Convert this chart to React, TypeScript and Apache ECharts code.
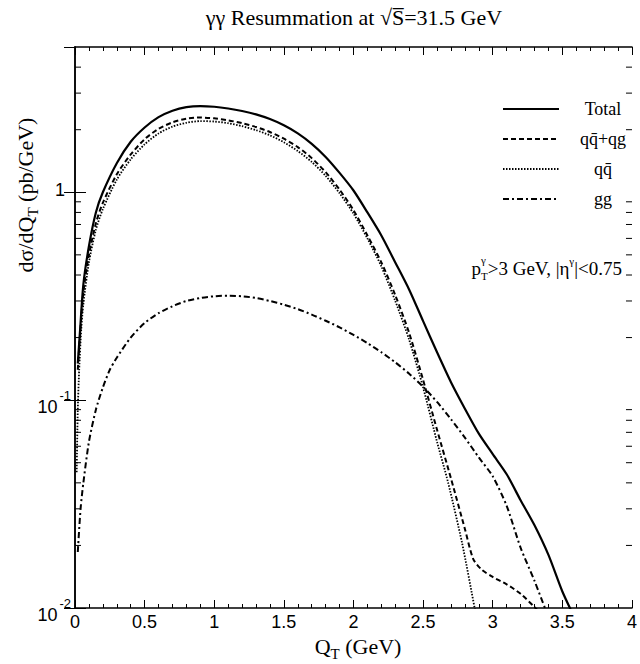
import React, { useEffect, useRef } from "react";
import * as echarts from "echarts";

// ---- data ----
const totalQ = [0.02, 0.035, 0.06, 0.1, 0.15, 0.2, 0.3, 0.4, 0.5, 0.6, 0.7, 0.8, 0.9, 1.0, 1.1, 1.2, 1.3, 1.4, 1.5, 1.6, 1.7, 1.8, 1.9, 2.0, 2.1, 2.2, 2.3, 2.4, 2.5, 2.6, 2.7, 2.8, 2.9, 3.0, 3.1, 3.2, 3.3, 3.4, 3.5, 3.58];
const totalV = [0.15, 0.21, 0.36, 0.55, 0.8, 1.0, 1.38, 1.75, 2.05, 2.3, 2.47, 2.57, 2.6, 2.58, 2.53, 2.46, 2.37, 2.25, 2.1, 1.92, 1.71, 1.48, 1.24, 1.02, 0.8, 0.62, 0.46, 0.34, 0.24, 0.17, 0.122, 0.091, 0.069, 0.055, 0.044, 0.033, 0.025, 0.018, 0.012, 0.0092];

const qqqgQ = [0.02, 0.035, 0.06, 0.1, 0.15, 0.2, 0.3, 0.4, 0.5, 0.6, 0.7, 0.8, 0.9, 1.0, 1.1, 1.2, 1.3, 1.4, 1.5, 1.6, 1.7, 1.8, 1.9, 2.0, 2.1, 2.2, 2.3, 2.4, 2.5, 2.6, 2.7, 2.8, 2.86, 2.92, 3.0, 3.1, 3.2, 3.3, 3.35];
const qqqgV = [0.14, 0.2, 0.33, 0.5, 0.71, 0.89, 1.22, 1.52, 1.8, 2.02, 2.17, 2.26, 2.29, 2.27, 2.22, 2.15, 2.06, 1.95, 1.81, 1.65, 1.46, 1.25, 1.03, 0.82, 0.62, 0.46, 0.32, 0.21, 0.125, 0.072, 0.042, 0.024, 0.0172, 0.0153, 0.0141, 0.013, 0.0117, 0.0101, 0.0093];

const qqQ = [0.012, 0.02, 0.03, 0.045, 0.06, 0.1, 0.15, 0.2, 0.3, 0.4, 0.5, 0.6, 0.7, 0.8, 0.9, 1.0, 1.1, 1.2, 1.3, 1.4, 1.5, 1.6, 1.7, 1.8, 1.9, 2.0, 2.1, 2.2, 2.3, 2.4, 2.5, 2.6, 2.68, 2.78, 2.87, 2.89];
const qqV = [0.045, 0.09, 0.14, 0.22, 0.29, 0.46, 0.66, 0.83, 1.15, 1.44, 1.7, 1.92, 2.07, 2.16, 2.2, 2.19, 2.15, 2.08, 1.99, 1.88, 1.74, 1.58, 1.4, 1.2, 0.99, 0.79, 0.6, 0.44, 0.3, 0.195, 0.115, 0.063, 0.04, 0.0205, 0.01, 0.0085];

const ggQ = [0.02, 0.04, 0.06, 0.1, 0.15, 0.2, 0.25, 0.3, 0.4, 0.5, 0.6, 0.7, 0.8, 0.9, 1.0, 1.1, 1.2, 1.3, 1.4, 1.5, 1.6, 1.7, 1.8, 1.9, 2.0, 2.1, 2.2, 2.3, 2.4, 2.5, 2.6, 2.7, 2.8, 2.9, 3.0, 3.1, 3.2, 3.3, 3.38, 3.42];
const ggV = [0.0186, 0.03, 0.04, 0.063, 0.09, 0.115, 0.14, 0.16, 0.2, 0.235, 0.262, 0.283, 0.3, 0.31, 0.316, 0.318, 0.316, 0.31, 0.3, 0.288, 0.274, 0.258, 0.241, 0.224, 0.206, 0.188, 0.17, 0.152, 0.134, 0.116, 0.098, 0.081, 0.066, 0.053, 0.043, 0.031, 0.0195, 0.0135, 0.0098, 0.0085];

const seriesNames = ["Total", "qq\u0304+qg", "qq\u0304", "gg"];
const yMinorTicks = [0.02, 0.03, 0.04, 0.05, 0.06, 0.07, 0.08, 0.09, 0.2, 0.3, 0.4, 0.5, 0.6, 0.7, 0.8, 0.9, 2, 3, 4];

const SERIF = '"Liberation Serif", "DejaVu Serif", serif';
const SANS = '"Liberation Sans", Arial, sans-serif';

const zip = (xs: number[], ys: number[]) => xs.map((x, i) => [x, ys[i]]);

function textWidth(text: string, size: number): number {
  const ctx = document.createElement("canvas").getContext("2d");
  if (!ctx) return text.length * size * 0.5;
  ctx.font = size + "px " + SERIF;
  return ctx.measureText(text).width;
}

export default function App() {
  const ref = useRef<HTMLDivElement>(null);
  useEffect(() => {
    const chart = echarts.init(ref.current!, null, { renderer: "svg" });
    const axisLine = { show: true, lineStyle: { color: "#000", width: 1.5 } };
    const xAxisBase = {
      type: "value",
      min: 0,
      max: 4,
      interval: 0.5,
      axisLine,
      axisTick: { show: true, inside: true, length: 8, lineStyle: { color: "#000", width: 1 } },
      minorTick: { show: true, splitNumber: 5, length: 4, lineStyle: { color: "#000", width: 1 } },
      splitLine: { show: false },
      minorSplitLine: { show: false },
    };
    const yAxisBase = {
      type: "log",
      logBase: 10,
      min: 0.01,
      max: 5,
      interval: 1,
      axisLine,
      axisTick: { show: true, inside: true, length: 11, lineStyle: { color: "#000", width: 1 } },
      splitLine: { show: false },
    };
    const lineSeries = (name: string, data: number[][], type: any, width: number) => ({
      type: "line",
      name,
      data,
      symbol: "none",
      smooth: 0.25,
      xAxisIndex: 0,
      yAxisIndex: 0,
      lineStyle: { color: "#000", width, type },
      itemStyle: { color: "#000" },
      z: 3,
    });

    // annotation layout: right edge at 622
    const annRight = 622;
    const annWidth =
      textWidth("p", 19) + textWidth("T", 11) + textWidth(">3 GeV, |\u03b7", 19) + textWidth("\u03b3", 11) + textWidth("|<0.75", 19);
    const annLeft = annRight - annWidth;
    const gammaX = annLeft + textWidth("p", 19);

    chart.setOption({
      animation: false,
      backgroundColor: "#fff",
      grid: { left: 75, right: 2, top: 47, bottom: 56 },
      xAxis: [
        {
          ...xAxisBase,
          position: "bottom",
          axisLabel: { show: true, color: "#000", fontSize: 18, fontFamily: SANS, margin: 5 },
        },
        { ...xAxisBase, position: "top", axisLabel: { show: false } },
      ],
      yAxis: [
        {
          ...yAxisBase,
          position: "left",
          axisLabel: {
            show: true,
            showMaxLabel: false,
            margin: 4,
            formatter: (v: number) => {
              const e = Math.round(Math.log10(v));
              if (Math.abs(Math.log10(v) - e) > 1e-6) return "";
              if (e === 0) return "{o|1}";
              return "{n|10}{s|" + e + "}";
            },
            rich: {
              o: { fontSize: 18, fontFamily: SANS, color: "#000", padding: [0, 6, 4, 0] },
              n: { fontSize: 18, fontFamily: SANS, color: "#000", padding: [14, 2, 0, 0] },
              s: { fontSize: 13, fontFamily: SANS, color: "#000", padding: [0, 0, 10, 0] },
            },
          },
        },
        { ...yAxisBase, position: "right", axisLabel: { show: false } },
      ],
      legend: {
        orient: "vertical",
        left: 497,
        top: 95,
        itemWidth: 56,
        itemHeight: 14,
        itemGap: 12,
        data: seriesNames,
        selectedMode: false,
        itemStyle: { opacity: 0 },
        formatter: (name: string) => "{c|" + name + "}",
        textStyle: {
          color: "#000",
          rich: { c: { width: 78, align: "center", fontSize: 18, fontFamily: SERIF, color: "#000" } },
        },
      },
      series: [
        lineSeries(seriesNames[0], zip(totalQ, totalV), "solid", 2.2),
        lineSeries(seriesNames[1], zip(qqqgQ, qqqgV), [5, 3], 2),
        lineSeries(seriesNames[2], zip(qqQ, qqV), [1.5, 1.5], 1.8),
        lineSeries(seriesNames[3], zip(ggQ, ggV), [6, 3, 2, 3], 2),
        {
          type: "custom",
          name: "minorTicks",
          xAxisIndex: 0,
          yAxisIndex: 0,
          silent: true,
          clip: false,
          z: 5,
          encode: { x: 0, y: 1 },
          data: yMinorTicks.map((v) => [0, v]),
          renderItem: (_params: any, api: any) => {
            const v = api.value(1);
            const pl = api.coord([0, v]);
            const pr = api.coord([4, v]);
            const st = { stroke: "#000", lineWidth: 1 };
            return {
              type: "group",
              children: [
                { type: "line", shape: { x1: pl[0], y1: pl[1], x2: pl[0] + 6, y2: pl[1] }, style: st },
                { type: "line", shape: { x1: pr[0] - 6, y1: pr[1], x2: pr[0], y2: pr[1] }, style: st },
              ],
            };
          },
        },
      ],
      graphic: [
        {
          type: "text",
          x: 354,
          y: 17,
          style: {
            text: "\u03b3\u03b3 Resummation at \u221aS\u0305=31.5 GeV",
            fontSize: 22,
            fontFamily: SERIF,
            fill: "#000",
            align: "center",
            verticalAlign: "middle",
          },
        },
        {
          type: "text",
          x: 358,
          y: 646,
          style: {
            text: "{a|Q}{b|T}{a| (GeV)}",
            align: "center",
            verticalAlign: "middle",
            rich: {
              a: { fontSize: 22, fontFamily: SERIF, fill: "#000", lineHeight: 30 },
              b: { fontSize: 15, fontFamily: SERIF, fill: "#000", lineHeight: 15, verticalAlign: "bottom" },
            },
          },
        },
        {
          type: "text",
          x: 25,
          y: 195,
          rotation: Math.PI / 2,
          style: {
            text: "{a|d\u03c3/dQ}{b|T}{a| (pb/GeV)}",
            align: "center",
            verticalAlign: "middle",
            rich: {
              a: { fontSize: 22, fontFamily: SERIF, fill: "#000", lineHeight: 30 },
              b: { fontSize: 15, fontFamily: SERIF, fill: "#000", lineHeight: 15, verticalAlign: "bottom" },
            },
          },
        },
        {
          type: "text",
          x: annLeft,
          y: 268,
          style: {
            text: "{m|p}{s|T}{m|>3 GeV, |\u03b7}{u|\u03b3}{m||<0.75}",
            align: "left",
            verticalAlign: "middle",
            rich: {
              m: { fontSize: 19, fontFamily: SERIF, fill: "#000", lineHeight: 26 },
              s: { fontSize: 11, fontFamily: SERIF, fill: "#000", lineHeight: 11, verticalAlign: "bottom" },
              u: { fontSize: 11, fontFamily: SERIF, fill: "#000", lineHeight: 11, verticalAlign: "top" },
            },
          },
        },
        {
          type: "text",
          x: gammaX,
          y: 260,
          style: { text: "\u03b3", fontSize: 11, fontFamily: SERIF, fill: "#000", align: "left", verticalAlign: "middle" },
        },
      ],
    });
    return () => chart.dispose();
  }, []);
  return <div ref={ref} style={{ position: "fixed", left: 0, top: 0, width: 640, height: 664 }} />;
}
